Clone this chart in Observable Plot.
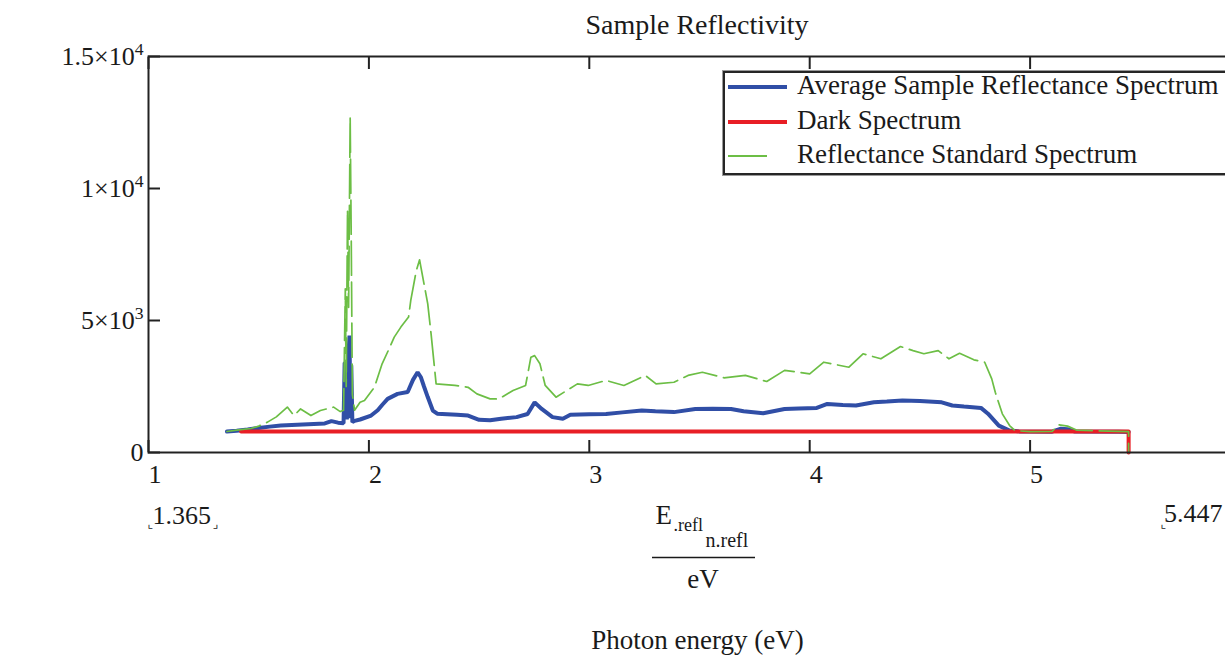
<!DOCTYPE html>
<html>
<head>
<meta charset="utf-8">
<script src="https://cdn.jsdelivr.net/npm/d3@7"></script>
<script src="https://cdn.jsdelivr.net/npm/@observablehq/plot@0.6"></script>
<style>
html, body { margin: 0; padding: 0; background: #fff; overflow: hidden; width: 1225px; height: 665px; }
#wrap { position: relative; width: 1225px; height: 665px; overflow: hidden; }
#wrap svg { position: absolute; left: 0; top: 0; max-width: none !important; width: 1260px !important; height: 665px !important; }
.legend { position: absolute; left: 723px; top: 71px; width: 560px; height: 100px; border: 2px solid #262626; box-shadow: 0 0 0 1px #9a9a9a; background: #fff;
  font-family: "Liberation Serif", "Times New Roman", serif; font-size: 27px; color: #1a1a1a; }
.row { position: absolute; left: 0; height: 34px; line-height: 34px; width: 100%; }
.sw { position: absolute; left: 3px; width: 59px; height: 4px; top: 15px; }
.lab { position: absolute; left: 72px; top: -2px; white-space: nowrap; }
</style>
</head>
<body>
<div id="wrap"></div>
<script>
// ---- data ----
const seriesNames = ["Average Sample Reflectance Spectrum", "Dark Spectrum", "Reflectance Standard Spectrum"];
const seriesColors = ["#304ea6", "#e81e25", "#6cbe45"];

const sampleEnergy = [1.356, 1.40, 1.45, 1.50, 1.55, 1.60, 1.65, 1.70, 1.75, 1.80, 1.83, 1.86, 1.885, 1.890, 1.896, 1.900, 1.905, 1.912, 1.916, 1.920, 1.925, 1.935, 1.96, 2.01, 2.04, 2.06, 2.085, 2.13, 2.176, 2.20, 2.221, 2.236, 2.25, 2.267, 2.29, 2.31, 2.40, 2.45, 2.50, 2.55, 2.60, 2.67, 2.72, 2.752, 2.784, 2.833, 2.88, 2.914, 3.00, 3.076, 3.15, 3.238, 3.30, 3.384, 3.481, 3.56, 3.643, 3.70, 3.789, 3.886, 3.95, 4.032, 4.080, 4.15, 4.210, 4.291, 4.35, 4.421, 4.50, 4.599, 4.647, 4.70, 4.777, 4.809, 4.858, 4.907, 4.95, 5.10, 5.14, 5.17, 5.20, 5.40, 5.447];
const sampleCounts = [795, 820, 870, 930, 980, 1020, 1040, 1060, 1080, 1100, 1190, 1130, 1110, 3400, 3400, 1250, 3400, 4430, 1300, 3300, 1150, 1200, 1250, 1400, 1600, 1800, 2030, 2220, 2290, 2750, 3040, 2850, 2500, 2100, 1590, 1470, 1430, 1400, 1240, 1220, 1280, 1340, 1460, 1900, 1650, 1340, 1280, 1430, 1450, 1460, 1520, 1590, 1560, 1530, 1650, 1660, 1650, 1560, 1490, 1650, 1670, 1690, 1840, 1800, 1780, 1900, 1930, 1970, 1950, 1900, 1780, 1740, 1690, 1470, 1020, 830, 800, 790, 900, 880, 800, 790, 780];

const darkEnergy = [1.42, 3.0, 5.447, 5.447];
const darkCounts = [800, 800, 800, 0];

const standardEnergy = [1.356, 1.40, 1.465, 1.50, 1.54, 1.58, 1.63, 1.66, 1.69, 1.737, 1.78, 1.84, 1.87, 1.885, 1.893, 1.897, 1.903, 1.908, 1.915, 1.920, 1.925, 1.935, 1.96, 1.98, 2.025, 2.06, 2.09, 2.115, 2.145, 2.18, 2.19, 2.215, 2.23, 2.236, 2.267, 2.282, 2.305, 2.39, 2.45, 2.49, 2.55, 2.59, 2.654, 2.711, 2.735, 2.752, 2.776, 2.80, 2.849, 2.898, 2.946, 2.995, 3.076, 3.157, 3.254, 3.303, 3.384, 3.448, 3.513, 3.611, 3.708, 3.805, 3.886, 4.0, 4.064, 4.178, 4.242, 4.323, 4.412, 4.469, 4.518, 4.583, 4.632, 4.680, 4.745, 4.794, 4.826, 4.842, 4.874, 4.907, 4.931, 5.00, 5.10, 5.13, 5.17, 5.21, 5.30, 5.40, 5.447, 5.447];
const standardCounts = [795, 850, 910, 1000, 1150, 1350, 1720, 1400, 1650, 1400, 1590, 1720, 1550, 1600, 6200, 2500, 9200, 5500, 12700, 8000, 2200, 1600, 1900, 1970, 2470, 3360, 3900, 4370, 4750, 5130, 5760, 6890, 7300, 7020, 5630, 4500, 2600, 2540, 2470, 2220, 2030, 2030, 2350, 2540, 3610, 3670, 3360, 2540, 2095, 2350, 2600, 2540, 2730, 2540, 2920, 2600, 2660, 2920, 3040, 2830, 2920, 2690, 3110, 2980, 3420, 3230, 3740, 3550, 4015, 3860, 3740, 3860, 3550, 3760, 3510, 3420, 2790, 2280, 1465, 1020, 830, 790, 800, 1050, 1000, 850, 820, 800, 790, 0];

const xTicks = [1, 2, 3, 4, 5, 6];
const xTickLabels = ["1", "2", "3", "4", "5", ""];
const xDomain = [1, 6];
const yTicks = [0, 5000, 10000, 15000];
const yTickLabels = ["0", "5×10^3", "1×10^4", "1.5×10^4"];
const yDomain = [0, 15000];
const rangeLow = "1.365";
const rangeHigh = "5.447";
const titleText = "Sample Reflectivity";
const axisName = "Photon energy (eV)";

// ---- build tables ----
const sample = sampleEnergy.map((e, i) => ({e, v: sampleCounts[i]}));
const dark = darkEnergy.map((e, i) => ({e, v: darkCounts[i]}));
const standard = standardEnergy.map((e, i) => ({e, v: standardCounts[i]}));

const serif = '"Liberation Serif", "Times New Roman", serif';
const ink = "#1a1a1a";
const mid = (b, fs) => b - 0.32 * fs - 452; // helper: baseline -> dy from frame bottom
const T = {lineAnchor: "middle", fill: ink};

const plot = Plot.plot({
  width: 1260,
  height: 665,
  marginLeft: 148,
  marginRight: 10,
  marginTop: 56,
  marginBottom: 213,
  style: {fontFamily: serif, fontSize: "26px", color: ink, background: "white", overflow: "visible"},
  x: {domain: xDomain},
  y: {domain: yDomain},
  marks: [
    Plot.line(sample, {x: "e", y: "v", stroke: seriesColors[0], strokeWidth: 4, strokeLinejoin: "miter"}),
    Plot.line(dark, {x: "e", y: "v", stroke: seriesColors[1], strokeWidth: 4}),
    Plot.line(standard, {x: "e", y: "v", stroke: seriesColors[2], strokeWidth: 1.7, strokeDasharray: "34,7"}),
    Plot.frame({stroke: "#222", strokeWidth: 2}),
    Plot.axisY({ticks: yTicks, tickFormat: d => yTickLabels[yTicks.indexOf(d)], tickSize: -12, tickPadding: 17, strokeWidth: 2, stroke: "#222", label: null, fontSize: 26}),
    Plot.axisX({anchor: "bottom", ticks: xTicks, tickFormat: d => xTickLabels[xTicks.indexOf(d)], tickSize: -12, tickPadding: 24.5, textAnchor: "start", strokeWidth: 2, stroke: "#222", label: null, fontSize: 26}),
    Plot.axisX({anchor: "top", ticks: xTicks, tickFormat: () => "", tickSize: -12, strokeWidth: 2, stroke: "#222", label: null}),
    // title
    Plot.text([titleText], {...T, frameAnchor: "top", dx: -2.5, dy: 33 - 0.32 * 28 - 56, fontSize: 28}),
    // range limits
    Plot.text([rangeLow], {...T, frameAnchor: "bottom-left", textAnchor: "start", dx: 4, dy: mid(523, 26), fontSize: 26}),
    Plot.text([rangeHigh], {...T, frameAnchor: "bottom-right", textAnchor: "end", dx: -28, dy: mid(521, 26), fontSize: 26}),
    Plot.text(["⌞"], {...T, frameAnchor: "bottom-left", textAnchor: "start", dx: -1, dy: mid(527, 12), fontSize: 12, fontFamily: "DejaVu Sans"}),
    Plot.text(["⌟"], {...T, frameAnchor: "bottom-left", textAnchor: "start", dx: 64, dy: mid(527, 12), fontSize: 12, fontFamily: "DejaVu Sans"}),
    Plot.text(["⌞"], {...T, frameAnchor: "bottom-right", textAnchor: "start", dx: -90, dy: mid(527, 12), fontSize: 12, fontFamily: "DejaVu Sans"}),
    // x-axis expression
    Plot.text(["E"], {...T, frameAnchor: "bottom", textAnchor: "start", dx: -44, dy: mid(523, 27), fontSize: 27}),
    Plot.text([".refl"], {...T, frameAnchor: "bottom", textAnchor: "start", dx: -26, dy: mid(530, 18), fontSize: 18}),
    Plot.text(["n.refl"], {...T, frameAnchor: "bottom", textAnchor: "start", dx: 6, dy: mid(546, 20), fontSize: 20}),
    Plot.text(["eV"], {...T, frameAnchor: "bottom", dx: 3.5, dy: mid(587, 27), fontSize: 27}),
    Plot.text([axisName], {...T, frameAnchor: "bottom", dx: -2, dy: mid(648, 27), fontSize: 27})
  ]
});

const wrap = document.getElementById("wrap");
wrap.appendChild(plot);

// superscript exponents on y tick labels
d3.select(plot).selectAll('g[aria-label="y-axis tick label"] text').each(function() {
  const t = d3.select(this);
  const s = t.text();
  if (s.includes("^")) {
    const [base, exp] = s.split("^");
    t.text(null);
    t.append("tspan").text(base);
    t.append("tspan").attr("dy", "-0.55em").attr("font-size", "0.68em").text(exp);
  }
});

// fraction bar under E.refl
const xs = plot.scale("x");
const cx = (xs.range[0] + xs.range[1]) / 2;
d3.select(plot).append("line")
  .attr("x1", cx - 47).attr("x2", cx + 56)
  .attr("y1", 557.5).attr("y2", 557.5)
  .attr("stroke", ink).attr("stroke-width", 1.6);

// legend
const legend = document.createElement("div");
legend.className = "legend";
const centers = [87, 121.5, 156];
seriesNames.forEach((name, i) => {
  const row = document.createElement("div");
  row.className = "row";
  row.style.top = (centers[i] - 73 - 17) + "px";
  const sw = document.createElement("div");
  sw.className = "sw";
  if (i === 2) {
    sw.style.height = "0";
    sw.style.width = "39px";
    sw.style.borderTop = "2px solid " + seriesColors[i];
    sw.style.top = "16px";
  } else {
    sw.style.background = seriesColors[i];
  }
  const lab = document.createElement("span");
  lab.className = "lab";
  lab.textContent = name;
  row.appendChild(sw);
  row.appendChild(lab);
  legend.appendChild(row);
});
wrap.appendChild(legend);
</script>
</body>
</html>
